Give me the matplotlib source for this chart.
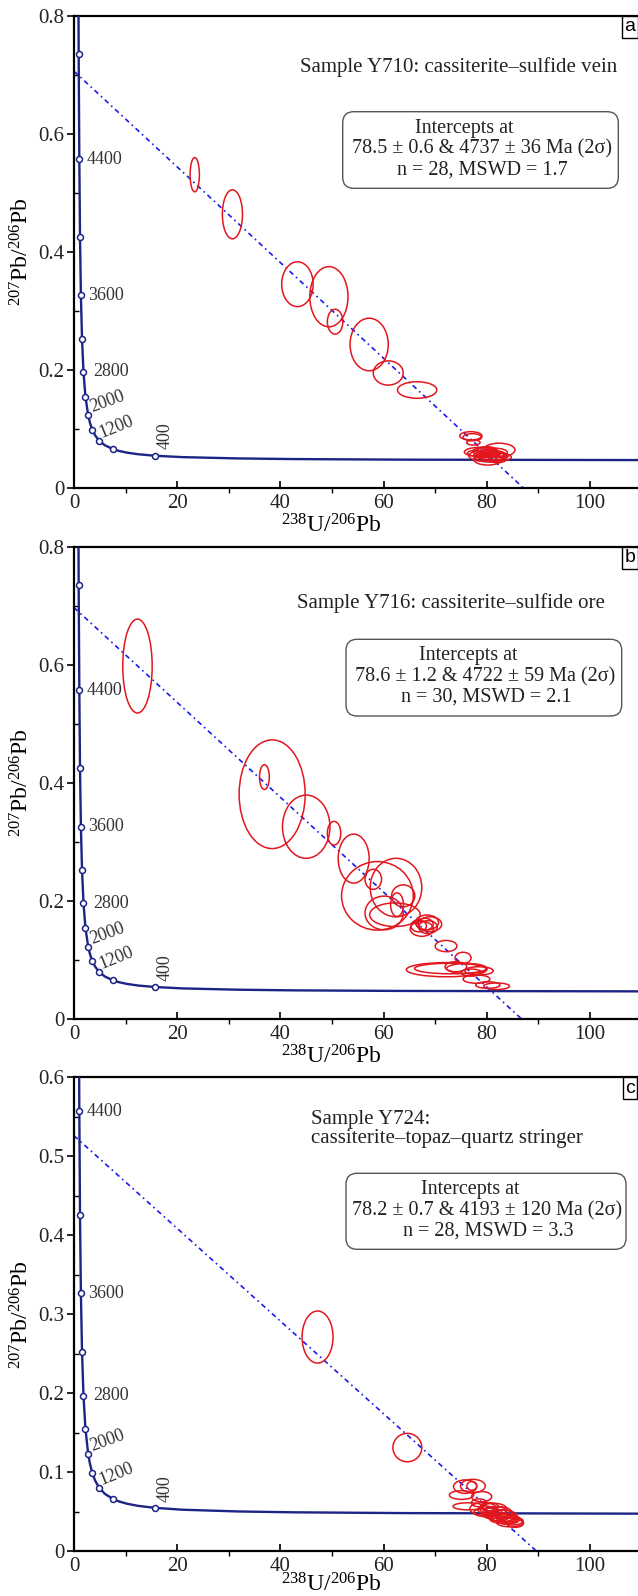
import matplotlib
matplotlib.use("Agg")
import matplotlib.pyplot as plt
from matplotlib.patches import Ellipse, FancyBboxPatch
from matplotlib.transforms import IdentityTransform
from matplotlib.ticker import MultipleLocator, FuncFormatter

plt.rcParams['font.family'] = ['Liberation Serif', 'DejaVu Serif']
plt.rcParams['mathtext.default'] = 'regular'

# Concordia curve (Tera-Wasserburg) ---------------------------------------------
conc_x = [128.4, 63.97, 42.48, 31.74, 20.99, 15.62, 12.40, 10.25, 8.718, 7.568,
          5.959, 4.888, 4.122, 3.550, 3.105, 2.749, 2.217, 1.838, 1.556, 1.337,
          1.163, 1.032, 0.904, 0.806]
conc_y = [0.0470, 0.0480, 0.0490, 0.0501, 0.0523, 0.0547, 0.0572, 0.0599, 0.0628,
          0.0658, 0.0725, 0.0801, 0.0888, 0.0987, 0.1100, 0.1230, 0.1548, 0.1968,
          0.2524, 0.3263, 0.4250, 0.5571, 0.7346, 0.9737]

# Age markers every 400 Ma
mark_age = [400, 800, 1200, 1600, 2000, 2400, 2800, 3200, 3600, 4000, 4400, 4800]
mark_x = [15.62, 7.568, 4.888, 3.550, 2.749, 2.217, 1.838, 1.556, 1.337, 1.163, 1.032, 0.904]
mark_y = [0.0547, 0.0658, 0.0801, 0.0987, 0.1230, 0.1548, 0.1968, 0.2524, 0.3263,
          0.4250, 0.5571, 0.7346]
label_ages = [400, 1200, 2000, 2800, 3600, 4400]

# Panel a: Y710 -------------------------------------------------------------------
a_x = [23.4, 30.7, 43.3, 49.4, 50.6, 57.2, 60.9, 66.5,
       76.9, 77.2, 77.4, 82.4, 78.8, 80.2, 80.2, 81.1, 79.5, 81.5, 80.5, 78.0,
       82.5, 81.0, 79.0, 80.0, 81.8, 79.8, 82.0, 80.8]
a_y = [0.5307, 0.4636, 0.3452, 0.3240, 0.2817, 0.2431, 0.1948, 0.1660,
       0.0884, 0.0860, 0.0770, 0.0644, 0.0610, 0.0545, 0.0488, 0.0545, 0.0620,
       0.0600, 0.0580, 0.0590, 0.0520, 0.0500, 0.0560, 0.0650, 0.0570, 0.0520,
       0.0480, 0.0620]
a_w = [1.8, 3.9, 6.1, 7.4, 3.0, 7.4, 5.8, 7.6,
       4.3, 3.6, 2.6, 6.1, 6.3, 7.4, 5.5, 6.1, 4.5, 5.0, 4.0, 3.5,
       4.5, 4.0, 3.0, 3.5, 3.2, 4.2, 3.5, 2.8]
a_h = [0.058, 0.083, 0.076, 0.102, 0.042, 0.089, 0.041, 0.028,
       0.014, 0.012, 0.0085, 0.023, 0.016, 0.020, 0.020, 0.014, 0.012, 0.015,
       0.010, 0.010, 0.012, 0.012, 0.010, 0.010, 0.010, 0.014, 0.010, 0.009]
a_y0, a_x0 = 0.706, 87.1

# Panel b: Y716 -------------------------------------------------------------------
b_x = [12.3, 38.4, 36.9, 45.0, 50.4, 54.2, 58.8, 62.4, 58.0, 63.8,
       62.6, 60.1, 62.2, 68.4, 67.4, 69.0, 68.0, 68.6, 72.1, 75.4,
       72.2, 73.0, 74.0, 76.1, 78.5, 78.0, 80.2, 81.9, 66.8, 77.0]
b_y = [0.598, 0.381, 0.410, 0.326, 0.315, 0.272, 0.209, 0.223, 0.237, 0.209,
       0.194, 0.180, 0.177, 0.164, 0.153, 0.161, 0.161, 0.156, 0.124, 0.104,
       0.084, 0.086, 0.089, 0.086, 0.082, 0.068, 0.058, 0.056, 0.158, 0.079]
b_w = [5.7, 12.8, 1.9, 9.2, 2.6, 6.0, 13.9, 10.0, 3.2, 4.5,
       2.5, 7.4, 9.8, 4.5, 4.5, 4.5, 3.2, 3.6, 4.2, 3.1,
       15.6, 14.0, 4.2, 7.8, 5.5, 5.2, 4.7, 5.0, 3.0, 4.0]
b_h = [0.159, 0.184, 0.042, 0.107, 0.040, 0.083, 0.116, 0.099, 0.034, 0.037,
       0.040, 0.057, 0.040, 0.025, 0.025, 0.025, 0.020, 0.022, 0.019, 0.019,
       0.024, 0.018, 0.017, 0.017, 0.014, 0.014, 0.011, 0.011, 0.020, 0.012]
b_y0, b_x0 = 0.697, 86.8

# Panel c: Y724 -------------------------------------------------------------------
c_x = [47.2, 64.6, 75.8, 77.3, 77.1, 75.1, 79.0, 76.4, 79.3, 81.3,
       80.2, 82.1, 82.9, 83.5, 84.5, 78.5, 80.5, 81.8, 83.0, 84.0,
       85.0, 79.8, 81.0, 82.5, 83.8, 85.5, 80.8, 84.8]
c_y = [0.271, 0.131, 0.0815, 0.0823, 0.0825, 0.0709, 0.0688, 0.0566, 0.0534, 0.0530,
       0.0488, 0.0488, 0.0446, 0.0403, 0.0361, 0.0610, 0.0560, 0.0510, 0.0470, 0.0420,
       0.0380, 0.0520, 0.0460, 0.0430, 0.0390, 0.0350, 0.0500, 0.0400]
c_w = [6.0, 5.6, 4.5, 4.8, 1.9, 4.7, 3.9, 5.9, 5.2, 5.2,
       5.5, 5.5, 5.8, 5.8, 5.2, 3.0, 3.5, 4.0, 4.0, 4.2,
       4.0, 3.0, 3.5, 3.5, 3.6, 3.2, 3.0, 3.0]
c_h = [0.066, 0.036, 0.017, 0.017, 0.011, 0.011, 0.013, 0.009, 0.016, 0.015,
       0.011, 0.015, 0.015, 0.011, 0.011, 0.010, 0.010, 0.010, 0.010, 0.010,
       0.010, 0.010, 0.010, 0.010, 0.010, 0.010, 0.010, 0.010]
c_y0, c_x0 = 0.526, 89.6

samples = ["Sample Y710: cassiterite\u2013sulfide vein",
           "Sample Y716: cassiterite\u2013sulfide ore",
           "Sample Y724:\ncassiterite\u2013topaz\u2013quartz stringer"]
intercepts = ["78.5 \u00b1 0.6 & 4737 \u00b1 36 Ma (2\u03c3)",
              "78.6 \u00b1 1.2 & 4722 \u00b1 59 Ma (2\u03c3)",
              "78.2 \u00b1 0.7 & 4193 \u00b1 120 Ma (2\u03c3)"]
stats = ["n = 28, MSWD = 1.7", "n = 30, MSWD = 2.1", "n = 28, MSWD = 3.3"]
letters = ["a", "b", "c"]

# Layout (pixels) -------------------------------------------------------------------
W, H = 638, 1596
NAVY = "#1c2485"
RED = "#e3161e"
BLUE = "#1a1aee"

fig = plt.figure(figsize=(W / 100, H / 100), dpi=100)

panels = [
    dict(top=15.7, bot=488, ymax=0.8, step=0.2, ell=(a_x, a_y, a_w, a_h), line=(a_y0, a_x0),
         samp=(300, 67), box=(342.7, 111.7, 618.3, 188.3), xlab=-0.055),
    dict(top=546.7, bot=1019.3, ymax=0.8, step=0.2, ell=(b_x, b_y, b_w, b_h), line=(b_y0, b_x0),
         samp=(297, 603), box=(346, 639.3, 621.7, 716), xlab=-0.055),
    dict(top=1077.3, bot=1551, ymax=0.6, step=0.1, ell=(c_x, c_y, c_w, c_h), line=(c_y0, c_x0),
         samp=(311, 1129), box=(346, 1173.3, 626, 1249.3), xlab=-0.047),
]

# label offsets (points) and rotations for age labels
lab_style = {400: (1.8, 4.5, 90, 'left', 'top'),
             1200: (3.0, -0.5, 22, 'left', 'bottom'),
             2000: (4.0, -0.5, 20, 'left', 'bottom'),
             2800: (7.0, 0, 0, 'left', 'center'),
             3600: (5.0, 0, 0, 'left', 'center'),
             4400: (5.0, 0, 0, 'left', 'center')}

for i, p in enumerate(panels):
    left = 74
    ax = fig.add_axes([left / W, 1 - p['bot'] / H, (W - left) / W, (p['bot'] - p['top']) / H])
    ax.set_xlim(0, 109.3)
    ax.set_ylim(0, p['ymax'])

    # concordia
    ax.plot(conc_x, conc_y, color=NAVY, lw=1.7, zorder=3)
    ax.plot(mark_x, mark_y, 'o', mfc='white', mec=NAVY, ms=4.3, mew=1.1, zorder=4)
    for age, mx, my in zip(mark_age, mark_x, mark_y):
        if age in label_ages:
            dx, dy, rot, ha, va = lab_style[age]
            ax.annotate(str(age), (mx, my), xytext=(dx, dy), textcoords='offset points',
                        fontsize=13, color='#333333', rotation=rot, ha=ha, va=va,
                        rotation_mode='anchor', zorder=5)

    # discordia
    y0, x0 = p['line']
    ax.plot([0, x0], [y0, 0], color=BLUE, lw=1.2, dashes=(3, 2.2, 1, 2.2), zorder=2)

    # error ellipses
    ex, ey, ew, eh = p['ell']
    for x, y, w, h in zip(ex, ey, ew, eh):
        ax.add_patch(Ellipse((x, y), w, h, fill=False, ec=RED, lw=1.1, zorder=6))

    # axes styling
    for s in ['top', 'left', 'bottom']:
        ax.spines[s].set_linewidth(1.6)
    ax.spines['right'].set_visible(False)
    ax.xaxis.set_major_locator(MultipleLocator(20))
    ax.xaxis.set_minor_locator(MultipleLocator(10))
    ax.yaxis.set_major_locator(MultipleLocator(p['step']))
    ax.yaxis.set_minor_locator(MultipleLocator(p['step'] / 2))
    ax.yaxis.set_major_formatter(FuncFormatter(lambda v, _: '0' if abs(v) < 1e-9 else f'{v:.1f}'))
    ax.tick_params(axis='y', which='major', direction='out', length=5, width=1.2, pad=2,
                   labelsize=15, labelcolor='#222222')
    ax.tick_params(axis='y', which='minor', direction='in', length=3.5, width=1)
    ax.tick_params(axis='x', which='major', direction='in', length=5, width=1.2, pad=4,
                   labelsize=15, labelcolor='#222222')
    ax.tick_params(axis='x', which='minor', direction='out', length=3.5, width=1)
    ax.tick_params(top=False, right=False, which='both')

    ax.set_xlabel(r'$^{238}$U/$^{206}$Pb', fontsize=17)
    ax.xaxis.set_label_coords(0.457, p['xlab'])
    ax.set_ylabel(r'$^{207}$Pb/$^{206}$Pb', fontsize=17)
    ax.yaxis.set_label_coords(-0.071, 0.5)

    # sample name
    sx, sy = p['samp']
    fig.text(sx / W, 1 - sy / H, samples[i], fontsize=15, color='#222222',
             ha='left', va='center', linespacing=1.0)

    # intercept box
    bx0, by0, bx1, by1 = p['box']
    fig.add_artist(FancyBboxPatch((bx0, H - by1), bx1 - bx0, by1 - by0,
                                  boxstyle="round,pad=0,rounding_size=11",
                                  transform=IdentityTransform(), fill=False,
                                  ec='#555555', lw=1.0))
    cx = (bx0 + bx1) / 2
    lines = ["Intercepts at", intercepts[i], stats[i]]
    offs = [(-16, 16.5), (1, 37.5), (2, 58)]
    for t, (ox, oy) in zip(lines, offs):
        fig.text((cx + ox) / W, 1 - (by0 + oy) / H, t, fontsize=14.5, color='#222222',
                 ha='center', va='center')

    # panel letter
    fig.text(630 / W, 1 - (p['top'] + 11) / H, letters[i], fontsize=14,
             family=['Liberation Sans', 'DejaVu Sans'], ha='center', va='center',
             bbox=dict(boxstyle='square,pad=0.12', fc='white', ec='black', lw=1.0))

fig.savefig("out.png", dpi=100)
